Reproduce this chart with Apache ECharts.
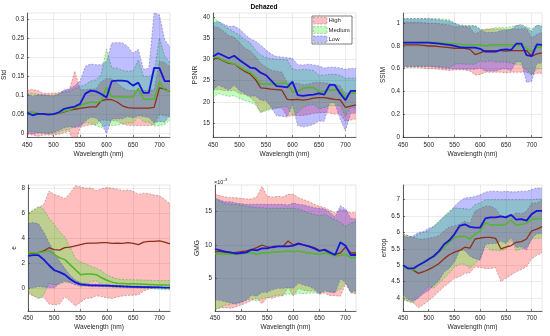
<!DOCTYPE html>
<html><head><meta charset="utf-8">
<script src="https://cdn.jsdelivr.net/npm/echarts@6/dist/echarts.min.js"></script>
<style>html,body{margin:0;padding:0;background:#fff}#c{width:550px;height:336px}</style>
</head><body><div id="c"></div><script>
const wavelengths = [450,460,470,480,490,500,510,520,530,540,550,560,570,580,590,600,610,620,630,640,650,660,670,680,690,700,710,720];
const xTicks = [450,500,550,600,650,700];
const groupNames = ['High','Medium','Low'];

// Std
const stdHighMean = [0.055,0.055,0.052,0.050,0.050,0.050,0.052,0.056,0.060,0.063,0.065,0.067,0.069,0.069,0.085,0.089,0.088,0.082,0.072,0.067,0.066,0.066,0.066,0.066,0.068,0.119,0.116,0.109];
const stdHighSd   = [0.058,0.060,0.060,0.055,0.055,0.055,0.055,0.055,0.055,0.100,0.050,0.047,0.047,0.047,0.050,0.055,0.055,0.050,0.048,0.046,0.046,0.046,0.046,0.046,0.046,0.070,0.070,0.065];
const stdMedMean  = [0.054,0.055,0.052,0.050,0.050,0.050,0.053,0.058,0.060,0.068,0.072,0.078,0.082,0.080,0.085,0.121,0.096,0.096,0.095,0.095,0.095,0.118,0.090,0.089,0.089,0.135,0.113,0.110];
const stdMedSd    = [0.050,0.050,0.050,0.050,0.050,0.050,0.050,0.050,0.050,0.050,0.050,0.050,0.055,0.060,0.070,0.100,0.075,0.075,0.070,0.068,0.068,0.075,0.060,0.060,0.070,0.115,0.090,0.075];
const stdLowMean  = [0.054,0.047,0.051,0.051,0.049,0.050,0.055,0.064,0.067,0.070,0.077,0.104,0.112,0.110,0.103,0.094,0.137,0.138,0.138,0.136,0.125,0.133,0.106,0.106,0.172,0.171,0.137,0.137];
const stdLowSd    = [0.050,0.050,0.050,0.050,0.050,0.048,0.048,0.050,0.050,0.055,0.060,0.072,0.070,0.070,0.077,0.095,0.100,0.100,0.100,0.092,0.085,0.087,0.062,0.065,0.145,0.140,0.108,0.090];

// PSNR
const psnrHighMean = [30.3,30.3,29.7,29.1,29.0,28.0,27.2,26.6,25.3,23.3,23.2,23.0,22.9,22.8,20.6,20.5,20.6,20.4,20.6,20.9,21.0,21.0,20.8,20.6,20.5,18.7,19.0,19.3];
const psnrHighSd   = [7.5,7.3,7.0,6.5,6.3,6.0,5.5,5.5,5.5,5.8,5.0,4.5,4.3,4.2,4.0,3.8,3.8,3.6,3.6,3.6,3.6,3.5,3.5,3.5,3.3,3.3,3.3,3.3];
const psnrMedMean  = [30.5,30.5,29.8,29.3,29.0,28.3,27.5,27.0,25.8,24.3,24.2,24.2,24.3,24.4,24.4,22.3,22.5,23.2,23.4,23.4,22.3,22.5,22.8,22.8,22.8,21.1,22.1,22.1];
const psnrMedSd    = [9.5,8.5,8.2,8.0,7.5,7.5,7.2,7.0,6.5,6.8,6.3,6.0,5.8,5.6,5.5,5.5,5.0,4.5,4.2,4.0,4.0,3.8,3.7,3.7,3.5,4.5,3.5,3.5];
const psnrLowMean  = [30.7,31.5,30.9,30.3,30.9,29.9,29.0,28.1,27.9,26.9,26.3,25.0,23.7,23.6,23.4,24.8,21.6,21.4,21.6,21.7,22.0,21.7,24.0,24.0,22.0,20.4,22.6,22.6];
const psnrLowSd    = [8.0,7.5,7.5,7.5,7.0,7.3,7.0,6.8,6.5,6.5,6.0,6.3,7.0,7.0,7.0,5.5,7.2,7.3,7.3,7.0,6.5,6.3,4.2,4.2,6.0,7.3,5.3,5.3];

// SSIM
const ssimHighMean = [0.81,0.81,0.81,0.81,0.805,0.80,0.80,0.795,0.79,0.785,0.78,0.78,0.78,0.77,0.725,0.74,0.76,0.76,0.76,0.76,0.755,0.76,0.76,0.76,0.76,0.71,0.73,0.74];
const ssimHighSd   = [0.20,0.20,0.20,0.20,0.20,0.20,0.20,0.20,0.20,0.20,0.19,0.19,0.19,0.19,0.18,0.19,0.19,0.19,0.19,0.19,0.19,0.19,0.19,0.19,0.19,0.16,0.17,0.18];
const ssimMedMean  = [0.83,0.83,0.83,0.83,0.83,0.83,0.83,0.83,0.825,0.82,0.82,0.815,0.81,0.81,0.81,0.81,0.80,0.81,0.81,0.81,0.81,0.81,0.81,0.81,0.78,0.75,0.79,0.79];
const ssimMedSd    = [0.21,0.21,0.21,0.21,0.21,0.21,0.21,0.21,0.21,0.21,0.18,0.17,0.17,0.17,0.17,0.14,0.14,0.14,0.15,0.15,0.15,0.16,0.17,0.18,0.19,0.20,0.19,0.19];
const ssimLowMean  = [0.829,0.83,0.83,0.83,0.83,0.83,0.825,0.82,0.815,0.81,0.80,0.79,0.785,0.785,0.785,0.775,0.75,0.75,0.75,0.765,0.77,0.765,0.82,0.82,0.72,0.71,0.815,0.81];
const ssimLowSd    = [0.21,0.21,0.21,0.21,0.21,0.21,0.21,0.21,0.21,0.21,0.20,0.19,0.19,0.19,0.19,0.17,0.17,0.17,0.17,0.17,0.17,0.18,0.16,0.16,0.24,0.22,0.17,0.16];

// e
const eHighMean = [2.8,2.8,2.85,3.0,3.25,3.1,3.05,3.25,3.3,3.4,3.5,3.6,3.62,3.62,3.65,3.65,3.6,3.62,3.6,3.65,3.6,3.5,3.7,3.75,3.75,3.8,3.7,3.55];
const eHighSd   = [3.2,3.4,3.6,3.7,4.5,4.4,4.3,3.9,4.3,4.8,4.6,4.4,4.4,4.2,4.3,4.4,4.4,4.3,4.2,4.2,4.15,4.0,3.9,3.8,3.7,3.6,3.4,3.2];
const eMedMean  = [2.85,2.85,2.85,2.9,3.0,2.7,2.45,2.3,1.9,1.5,1.1,1.15,1.15,1.1,0.85,0.65,0.5,0.42,0.4,0.38,0.37,0.36,0.34,0.32,0.3,0.28,0.27,0.26];
const eMedSd    = [3.1,3.4,3.7,3.4,2.6,2.4,2.1,1.8,1.4,0.9,1.0,0.8,0.6,0.5,0.55,0.45,0.4,0.35,0.32,0.32,0.32,0.32,0.33,0.33,0.34,0.35,0.36,0.38];
const eLowMean  = [2.6,2.65,2.65,2.3,1.85,1.45,1.3,1.1,0.75,0.48,0.33,0.28,0.25,0.24,0.23,0.22,0.2,0.18,0.16,0.15,0.13,0.12,0.11,0.1,0.09,0.08,0.07,0.06];
const eLowSd    = [2.6,2.6,2.5,2.2,1.8,1.4,0.9,0.5,0.3,0.2,0.12,0.1,0.1,0.09,0.09,0.08,0.08,0.08,0.07,0.07,0.07,0.06,0.06,0.06,0.06,0.05,0.05,0.05];

// GMG (x 1e-3)
const gmgHighMean = [9.0,9.0,8.9,8.8,8.9,9.0,9.1,9.3,9.6,10.0,9.7,9.6,9.8,9.8,10.6,10.0,10.3,10.0,9.8,9.6,9.2,9.2,8.8,8.6,8.8,9.7,8.8,8.8];
const gmgHighSd   = [8.6,8.4,8.3,8.3,8.2,8.0,7.8,7.6,7.6,8.8,7.6,7.6,7.5,7.4,7.0,7.6,6.8,6.8,6.7,6.5,6.6,6.4,6.4,6.2,6.5,5.5,6.0,6.1];
const gmgMedMean  = [8.7,8.6,8.6,8.6,8.7,8.7,8.8,8.8,8.6,8.8,8.8,8.9,9.0,9.0,9.1,9.0,9.1,8.9,8.8,8.7,8.6,8.8,8.6,8.4,8.4,8.6,8.1,8.2];
const gmgMedSd    = [8.4,8.0,7.6,7.5,7.4,7.3,7.0,6.9,7.0,6.8,6.7,6.6,6.5,6.5,6.4,6.5,6.3,6.2,6.0,5.9,5.8,5.8,5.6,5.4,5.0,4.2,5.2,5.3];
const gmgLowMean  = [9.4,9.2,9.0,8.9,8.7,8.8,8.9,9.3,9.2,9.5,9.5,9.7,9.8,9.8,9.8,9.9,10.2,10.0,9.8,9.5,9.1,9.3,8.9,8.5,10.4,9.9,8.5,8.5];
const gmgLowSd    = [7.6,7.5,7.5,7.6,7.6,7.4,7.2,6.8,6.9,6.6,6.6,6.4,6.3,6.3,6.2,6.4,5.9,6.0,6.0,6.1,6.4,6.1,6.0,5.7,5.5,5.5,5.5,5.4];

// entrop
const entHighMean = [4.95,4.9,4.85,4.75,4.8,4.87,4.95,5.05,5.2,5.32,5.4,5.45,5.55,5.52,5.8,5.83,5.85,5.85,5.82,5.5,5.55,5.6,5.7,5.72,5.8,6.05,6.1,6.18];
const entHighSd   = [1.0,1.0,1.0,1.05,1.0,0.95,0.9,0.85,0.85,0.85,0.8,0.8,0.8,0.75,0.85,0.9,0.95,0.95,0.9,1.0,0.95,0.9,0.9,0.85,0.85,0.85,0.8,0.8];
const entMedMean  = [4.95,4.9,4.85,5.0,5.1,5.2,5.25,5.4,5.55,5.7,5.85,5.88,5.88,5.8,5.95,6.05,6.3,6.23,6.23,6.22,6.25,6.38,6.22,6.25,6.28,6.4,6.42,6.42];
const entMedSd    = [1.0,1.0,1.0,0.95,0.9,0.85,0.95,0.95,0.95,0.95,0.9,0.85,0.85,0.9,0.9,0.85,0.7,0.77,0.77,0.78,0.75,0.62,0.78,0.75,0.72,0.6,0.6,0.6];
const entLowMean  = [5.0,4.9,4.9,5.0,5.08,5.18,5.28,5.43,5.64,5.76,5.95,6.2,6.25,6.17,6.15,6.15,6.43,6.46,6.46,6.49,6.46,6.54,6.39,6.41,6.36,6.56,6.66,6.66];
const entLowSd    = [0.9,0.95,1.0,1.0,0.95,0.95,0.9,0.9,0.85,0.85,0.85,0.75,0.8,0.9,0.95,1.0,0.8,0.8,0.8,0.75,0.8,0.7,0.85,0.85,0.9,0.75,0.7,0.7];

const stdTicks = [0,0.05,0.1,0.15,0.2,0.25,0.3];
const psnrTicks = [15,20,25,30,35,40];
const ssimTicks = [0,0.2,0.4,0.6,0.8,1];
const eTicks = [0,2,4,6,8];
const gmgTicks = [5,10,15];
const entTicks = [4,4.5,5,5.5,6,6.5,7];

const panels = [
  {label:'Std', ticks:stdTicks, min:-0.01, max:0.316, grid:{left:27,top:13,width:143,height:124}, gap:17, xm:5, xg:14,
   groups:[[stdHighMean,stdHighSd],[stdMedMean,stdMedSd],[stdLowMean,stdLowSd]]},
  {label:'PSNR', ticks:psnrTicks, min:11.7, max:41, grid:{left:213,top:13,width:143,height:124}, gap:11, xm:5, xg:14,
   groups:[[psnrHighMean,psnrHighSd],[psnrMedMean,psnrMedSd],[psnrLowMean,psnrLowSd]]},
  {label:'SSIM', ticks:ssimTicks, min:0, max:1.09, grid:{left:403,top:13,width:139,height:124}, gap:16, xm:5, xg:14,
   groups:[[ssimHighMean,ssimHighSd],[ssimMedMean,ssimMedSd],[ssimLowMean,ssimLowSd]]},
  {label:'e', ticks:eTicks, min:-1.8, max:8.25, grid:{left:28,top:185,width:142,height:126}, gap:9, xm:4, xg:13,
   groups:[[eHighMean,eHighSd],[eMedMean,eMedSd],[eLowMean,eLowSd]]},
  {label:'GMG', ticks:gmgTicks, min:0.1, max:19, grid:{left:215,top:185,width:141,height:126}, gap:14, xm:4, xg:13,
   groups:[[gmgHighMean,gmgHighSd],[gmgMedMean,gmgMedSd],[gmgLowMean,gmgLowSd]]},
  {label:'entrop', ticks:entTicks, min:3.6, max:7.45, grid:{left:403,top:185,width:139,height:126}, gap:15, xm:4, xg:13,
   groups:[[entHighMean,entHighSd],[entMedMean,entMedSd],[entLowMean,entLowSd]]}
];

const fills = ['rgba(255,0,0,0.25)','rgba(0,255,0,0.25)','rgba(0,0,255,0.25)'];
const edges = ['rgba(140,90,90,0.8)','rgba(90,140,90,0.8)','rgba(90,90,150,0.8)'];
const lineColors = ['#8e2f17','#52b52a','#1616d6'];
const lineWidths = [1.3,1.5,1.8];
const txt = '#262626';
const FONT = 'Liberation Sans, Arial, sans-serif';

function bandSeries(i, k, mean, sd) {
  return {
    type:'custom', xAxisIndex:i, yAxisIndex:i, silent:true, clip:true, animation:false,
    data:[[wavelengths[0], mean[0]]],
    renderItem: function (params, api) {
      if (params.dataIndex !== 0) return;
      const up = wavelengths.map((w, j) => api.coord([w, mean[j] + sd[j]]));
      const lo = wavelengths.map((w, j) => api.coord([w, mean[j] - sd[j]]));
      const poly = up.concat(lo.slice().reverse());
      return {type:'group', children:[
        {type:'polygon', shape:{points:poly}, style:{fill:fills[k], stroke:null}},
        {type:'polyline', shape:{points:up}, style:{fill:null, stroke:edges[k], lineWidth:0.6, lineDash:[2,1.5]}},
        {type:'polyline', shape:{points:lo}, style:{fill:null, stroke:edges[k], lineWidth:0.6, lineDash:[2,1.5]}}
      ]};
    }
  };
}

const grids = [], xAxes = [], yAxes = [], series = [];
panels.forEach((p, i) => {
  grids.push(Object.assign({show:true, borderColor:'#d6d6d6', borderWidth:0.6, backgroundColor:'transparent'}, p.grid));
  xAxes.push({type:'value', gridIndex:i, min:450, max:720,
    name:'Wavelength (nm)', nameLocation:'middle', nameGap:p.xg,
    nameTextStyle:{fontSize:6.6, color:txt, fontFamily:FONT},
    axisLine:{show:true, onZero:false, lineStyle:{color:txt, width:0.7}},
    axisTick:{show:true, inside:true, length:2, customValues:xTicks, lineStyle:{color:txt, width:0.6}},
    axisLabel:{customValues:xTicks, fontSize:6.3, color:txt, margin:p.xm, fontFamily:FONT},
    splitLine:{show:true, lineStyle:{color:'rgba(38,38,38,0.14)', width:0.6}}});
  yAxes.push({type:'value', gridIndex:i, min:p.min, max:p.max,
    name:p.label, nameLocation:'middle', nameGap:p.gap,
    nameTextStyle:{fontSize:6.6, color:txt, fontFamily:FONT},
    axisLine:{show:true, onZero:false, lineStyle:{color:txt, width:0.7}},
    axisTick:{show:true, inside:true, length:2, customValues:p.ticks, lineStyle:{color:txt, width:0.6}},
    axisLabel:{customValues:p.ticks, fontSize:6.3, color:txt, margin:3, fontFamily:FONT},
    splitLine:{show:true, lineStyle:{color:'rgba(38,38,38,0.14)', width:0.6}}});
  p.groups.forEach((g, k) => series.push(bandSeries(i, k, g[0], g[1])));
  p.groups.forEach((g, k) => {
    series.push({type:'line', name:groupNames[k], xAxisIndex:i, yAxisIndex:i, silent:true,
      symbol:'none', animation:false,
      data: wavelengths.map((w, j) => [w, g[0][j]]),
      lineStyle:{color:lineColors[k], width:lineWidths[k]}, z:3});
  });
});

const legendY = [20.7, 30, 39.3];
const graphic = [
  {type:'text', x:264, y:7, z:100, style:{text:'Dehazed', fontSize:6.6, fontWeight:'bold', fontFamily:FONT, fill:'#000', align:'center', verticalAlign:'middle'}},
  {type:'text', x:214, y:182, z:100, style:{text:'×10', fontSize:5.5, fontFamily:FONT, fill:txt, verticalAlign:'middle'}},
  {type:'text', x:223.5, y:179.5, z:100, style:{text:'-3', fontSize:4.2, fontFamily:FONT, fill:txt, verticalAlign:'middle'}},
  {type:'rect', z:100, shape:{x:312, y:16, width:40, height:28}, style:{fill:'#fff', stroke:txt, lineWidth:0.6}}
];
groupNames.forEach((n, k) => {
  graphic.push({type:'rect', z:101, shape:{x:313.5, y:legendY[k]-3.3, width:13.5, height:6.6},
    style:{fill:fills[k], stroke:edges[k], lineWidth:0.6, lineDash:[2,1.5]}});
  graphic.push({type:'text', z:101, x:328.5, y:legendY[k], style:{text:n, fontSize:6, fontFamily:FONT, fill:txt, verticalAlign:'middle'}});
});

const chart = echarts.init(document.getElementById('c'), null, {renderer:'canvas'});
chart.setOption({animation:false, backgroundColor:'#fff', grid:grids, xAxis:xAxes, yAxis:yAxes, series, graphic});
</script></body></html>
